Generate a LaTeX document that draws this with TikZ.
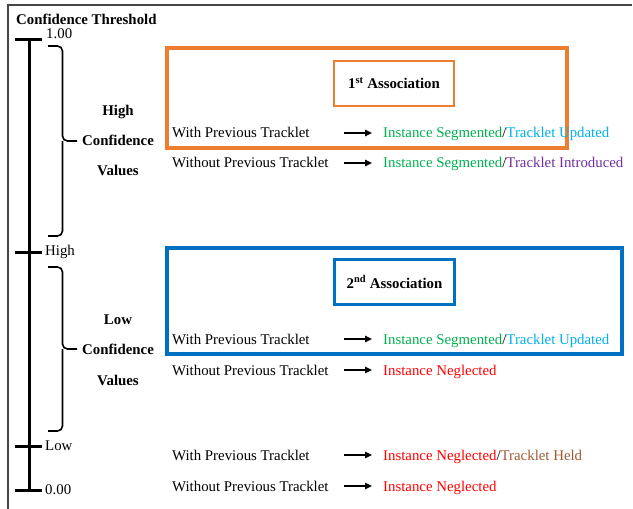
\documentclass[tikz,border=0pt]{standalone}
\usepackage{fontspec}
\setmainfont{Liberation Serif}
\usetikzlibrary{arrows.meta}
\definecolor{orng}{RGB}{237,125,49}
\definecolor{blu}{RGB}{0,112,192}
\definecolor{grn}{RGB}{0,176,80}
\definecolor{cyn}{RGB}{0,176,240}
\definecolor{prp}{RGB}{112,48,160}
\definecolor{rd}{RGB}{255,0,0}
\definecolor{brn}{RGB}{160,90,50}
\definecolor{frm}{RGB}{70,70,70}
\tikzset{
  txt/.style={inner sep=0pt, anchor=base west, font=\fontsize{14.9}{16}\selectfont},
  btxt/.style={inner sep=0pt, anchor=base, font=\fontsize{14.9}{16}\selectfont\bfseries},
  lbl/.style={inner sep=0pt, anchor=west, font=\fontsize{14.9}{16}\selectfont},
  axis/.style={line width=3bp},
  brc/.style={line width=1.6bp, rounded corners=5bp},
  arr/.style={line width=1.3bp, -{Triangle[length=7bp,width=6.5bp]}},
  bigbox/.style={line width=3.6bp},
  smallbox/.style={line width=2.2bp, minimum width=120bp, minimum height=45bp, inner sep=0pt, font=\fontsize{14.9}{16}\selectfont\bfseries}
}
\begin{document}
\begin{tikzpicture}[x=1bp,y=-1bp]
\useasboundingbox (0,0) rectangle (633,509);
% frame
\draw[frm, line width=1.2bp] (632,5) -- (8,5) -- (8,509);
% title
\node[btxt, anchor=base west] (title) at (16,25) {Confidence Threshold};
% axis
\coordinate (ttop) at (29,40);
\coordinate (tbot) at (29,490);
\draw[axis] (ttop) -- (tbot);
\foreach \y/\n in {40/t1, 252/th, 446/tl, 490/t0}{
  \coordinate (\n) at (29,\y);
  \draw[axis] ([xshift=-14bp]\n) -- ([xshift=13bp]\n);
}
\node[lbl] (l1) at (46,34) {1.00};
\node[lbl] (lh) at (45,252) {High};
\node[lbl] (ll) at (45,446) {Low};
\node[lbl] (l0) at (45,490) {0.00};
% braces
\draw[brc] (48,46) -- (62.5,46) -- (62.5,141) -- (77,141);
\draw[brc] (48,236) -- (62.5,236) -- (62.5,141);
\draw[brc] (48,267) -- (62.5,267) -- (62.5,349) -- (77,349);
\draw[brc] (48,431) -- (62.5,431) -- (62.5,349);
% group labels
\node[btxt] (hg1) at (118,116) {High};
\node[btxt] (hg2) at (118,146) {Confidence};
\node[btxt] (hg3) at (118,176) {Values};
\node[btxt] (lw1) at (118,324) {Low};
\node[btxt] (lw2) at (118,354) {Confidence};
\node[btxt] (lw3) at (118,385) {Values};
% boxes
\draw[orng, bigbox] (167,48) rectangle (567,148);
\node[draw=orng, smallbox] (as1) at (394,83.5) {1\textsuperscript{st} Association};
\draw[blu, bigbox] (167,248) rectangle (622,354);
\node[draw=blu, smallbox] (as2) at (394.5,282) {2\textsuperscript{nd} Association};
% rows
\foreach \y/\n/\l in {138/r1/With, 168/r2/Without, 344/r3/With, 375/r4/Without, 460/r5/With, 491/r6/Without}{
  \node[txt] (\n) at (172,\y) {\l\ Previous Tracklet};
}
\node[txt] (s1) at (383,138) {\textcolor{grn}{Instance Segmented}/\textcolor{cyn}{Tracklet Updated}};
\node[txt] (s2) at (383,168) {\textcolor{grn}{Instance Segmented}/\textcolor{prp}{Tracklet Introduced}};
\node[txt] (s3) at (383,344) {\textcolor{grn}{Instance Segmented}/\textcolor{cyn}{Tracklet Updated}};
\node[txt] (s4) at (383,375) {\textcolor{rd}{Instance Neglected}};
\node[txt] (s5) at (383,460) {\textcolor{rd}{Instance Neglected}/\textcolor{brn}{Tracklet Held}};
\node[txt] (s6) at (383,491) {\textcolor{rd}{Instance Neglected}};
\foreach \n in {s1,s2,s3,s4,s5,s6}{
  \draw[arr] ([xshift=-39bp,yshift=5bp]\n.base west) -- ([xshift=-11bp,yshift=5bp]\n.base west);
}
\end{tikzpicture}
\end{document}
